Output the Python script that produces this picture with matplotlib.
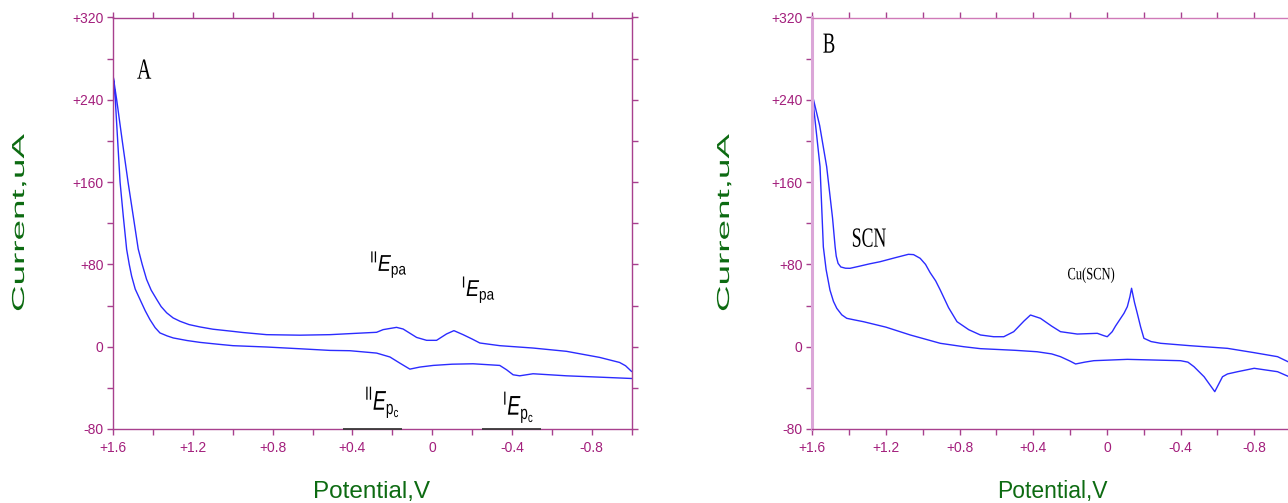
import numpy as np
import matplotlib
matplotlib.use("Agg")
import matplotlib.pyplot as plt
from matplotlib.patheffects import AbstractPathEffect
from matplotlib.ticker import MultipleLocator, FuncFormatter
from matplotlib.transforms import Affine2D

plt.rcParams['font.family'] = ['Liberation Sans', 'DejaVu Sans']
plt.rcParams['mathtext.fontset'] = 'custom'
plt.rcParams['mathtext.rm'] = 'Liberation Sans'
plt.rcParams['mathtext.it'] = 'Liberation Sans:italic'

# --- voltammogram A: anodic sweep (-1.0 -> +1.6 V), then cathodic sweep back
a_fwd_v = [-1.00, -0.97, -0.94, -0.84, -0.674, -0.506, -0.339, -0.239, -0.20, -0.155,
           -0.109, -0.072, -0.022, 0.028, 0.078, 0.146, 0.179, 0.246, 0.279, 0.413,
           0.513, 0.664, 0.831, 0.95, 1.00, 1.10, 1.165, 1.22, 1.265, 1.30,
           1.332, 1.36, 1.382, 1.41, 1.433, 1.455, 1.475, 1.50, 1.526, 1.555,
           1.583, 1.60]
a_fwd_i = [-24, -18.5, -15.3, -10.4, -4.5, -1.3, 1.0, 3.6, 7.5, 11.7,
           15.6, 12.4, 6.2, 6.2, 9.0, 17.2, 18.8, 16.6, 14.0, 12.7,
           11.7, 11.2, 11.7, 13.8, 14.9, 17.0, 19.2, 21.5, 24.7, 28.0,
           32.9, 39.0, 45.9, 55.0, 65.4, 80.0, 95.0, 127, 160, 200,
           240, 262]
a_rev_v = [1.60, 1.59, 1.566, 1.55, 1.533, 1.52, 1.508, 1.49, 1.466, 1.44,
           1.416, 1.39, 1.366, 1.33, 1.299, 1.23, 1.165, 1.08, 1.00, 0.831,
           0.664, 0.513, 0.413, 0.279, 0.212, 0.162, 0.112, 0.062, -0.005, -0.10,
           -0.205, -0.339, -0.373, -0.406, -0.439, -0.506, -0.674, -0.84, -1.00]
a_rev_i = [262, 240, 160, 127, 94.6, 80.0, 68.6, 56.0, 45.9, 35.0,
           26.3, 18.5, 13.4, 10.5, 8.5, 6.0, 4.2, 2.5, 1.0, -0.3,
           -2.0, -3.6, -3.9, -6.2, -10, -16, -21.8, -19.8, -18.2, -17,
           -16.6, -18.2, -22.4, -27.3, -28.3, -26.3, -28.3, -29.6, -30.9]

# --- voltammogram B (with thiocyanate)
b_fwd_v = [-1.00, -0.927, -0.80, -0.655, -0.45, -0.292, -0.24, -0.201, -0.183, -0.165,
           -0.15, -0.134, -0.125, -0.111, -0.093, -0.047, -0.029, -0.002, 0.016, 0.052,
           0.161, 0.252, 0.30, 0.361, 0.415, 0.45, 0.506, 0.56, 0.615, 0.687,
           0.75, 0.814, 0.86, 0.905, 0.93, 0.96, 0.985, 1.014, 1.05, 1.078,
           1.15, 1.232, 1.29, 1.35, 1.395, 1.42, 1.445, 1.46, 1.47, 1.476,
           1.49, 1.522, 1.56, 1.60]
b_fwd_i = [-16, -9.7, -5.8, -1.6, 1.0, 3.3, 5.0, 8.2, 19.4, 32.5,
           43, 56.8, 48.6, 38.9, 32.5, 20.1, 14.6, 9.7, 10.7, 13,
           12.3, 14.6, 20, 27.6, 30.8, 25, 14.6, 9.7, 9.7, 11.4,
           16.5, 24.3, 38, 55.1, 64, 72, 80, 85.9, 89.5, 89.8,
           86.5, 82.6, 80.5, 78, 76.2, 76.3, 77.5, 81, 88, 97,
           125, 175, 215, 245]
b_rev_v = [1.60, 1.558, 1.54, 1.525, 1.504, 1.485, 1.467, 1.44, 1.413, 1.37,
           1.322, 1.20, 1.068, 0.905, 0.778, 0.687, 0.50, 0.379, 0.30, 0.252,
           0.20, 0.17, 0.12, 0.071, -0.111, -0.40, -0.44, -0.473, -0.528, -0.586,
           -0.628, -0.655, -0.71, -0.80, -0.927, -1.00]
b_rev_i = [245, 175, 97, 75, 55, 44, 37.3, 31, 27.6, 26,
           24.3, 19, 11.4, 3.3, 0, -1.9, -3.5, -4.9, -7, -9.7,
           -14, -16.8, -15, -13.6, -12.3, -13.6, -15, -19.4, -29.2, -43.7,
           -29.2, -26.5, -24.3, -21, -24.3, -30]

x_limits = (1.6, -1.0)
y_limits = (-80, 320)
underline_spans = [(0.448, 0.152), (-0.249, -0.545)]

LINE = '#2b2bff'
SPINE = '#a8408e'
TICKLABEL = '#a31f7c'
GREEN = '#0d6b12'


class Stretch(AbstractPathEffect):
    """Scale glyph outlines along the text baseline."""

    def __init__(self, sx):
        super().__init__()
        self.sx = sx

    def draw_path(self, renderer, gc, tpath, affine, rgbFace=None):
        renderer.draw_path(gc, tpath, Affine2D().scale(self.sx, 1.0) + affine, rgbFace)


def fmt_v(v, pos):
    return '0' if abs(v) < 1e-9 else f'{v:+.1f}'


def fmt_i(v, pos):
    return '0' if abs(v) < 1e-9 else f'{v:+.0f}'


def setup_axes(ax):
    ax.set_xlim(*x_limits)
    ax.set_ylim(*y_limits)
    ax.xaxis.set_major_locator(MultipleLocator(0.4))
    ax.xaxis.set_minor_locator(MultipleLocator(0.2))
    ax.yaxis.set_major_locator(MultipleLocator(80))
    ax.yaxis.set_minor_locator(MultipleLocator(40))
    ax.xaxis.set_major_formatter(FuncFormatter(fmt_v))
    ax.yaxis.set_major_formatter(FuncFormatter(fmt_i))
    ax.tick_params(which='both', direction='out', length=4.5, width=1.0, color=SPINE,
                   top=True, right=True, labelsize=10, labelcolor=TICKLABEL)
    ax.tick_params(axis='x', pad=4)
    ax.tick_params(axis='y', pad=2.5)
    for sp in ax.spines.values():
        sp.set_color(SPINE)
        sp.set_linewidth(1.0)


W, H = 1288, 503
fig = plt.figure(figsize=(W / 100, H / 100), dpi=100)
axA = fig.add_axes([113.3 / W, 1 - 429 / H, 518.2 / W, 411.5 / H])
axB = fig.add_axes([812.3 / W, 1 - 429 / H, 478.7 / W, 411.5 / H])

for ax in (axA, axB):
    setup_axes(ax)

axB.spines['left'].set_color('#dba6d8')
axB.spines['left'].set_linewidth(2.2)
axB.spines['top'].set_color('#d07ab8')

axA.plot(np.concatenate([a_fwd_v, a_rev_v]), np.concatenate([a_fwd_i, a_rev_i]),
         color=LINE, lw=1.0)
axB.plot(np.concatenate([b_fwd_v, b_rev_v]), np.concatenate([b_fwd_i, b_rev_i]),
         color=LINE, lw=1.0)

for x0, x1 in underline_spans:
    axA.hlines(y_limits[0], x0, x1, color='#3a3a3a', lw=1.3, clip_on=False, zorder=5)

serif = ['Liberation Serif', 'DejaVu Serif']
axA.text(1.481, 260.5, 'A', family=serif, fontsize=21, ha='left', va='baseline',
         path_effects=[Stretch(0.68)])
axB.text(1.543, 285.8, 'B', family=serif, fontsize=21, ha='left', va='baseline',
         path_effects=[Stretch(0.64)])
axB.text(1.386, 97.2, 'SCN', family=serif, fontsize=20, ha='left', va='baseline',
         path_effects=[Stretch(0.64)])
axB.text(0.214, 65.5, 'Cu(SCN)', family=serif, fontsize=12.5, ha='left', va='baseline',
         path_effects=[Stretch(0.72)])

axA.text(0.313, 73.5, r'${}^{\mathrm{II}}E_{\mathrm{pa}}$', fontsize=16.5,
         ha='left', va='baseline', path_effects=[Stretch(0.85)])
axA.text(-0.147, 49.1, r'${}^{\mathrm{I}}E_{\mathrm{pa}}$', fontsize=16.5,
         ha='left', va='baseline', path_effects=[Stretch(0.85)])
axA.text(0.338, -61.5, r'${}^{\mathrm{II}}E_{\mathrm{p}_{\mathrm{c}}}$', fontsize=19.5,
         ha='left', va='baseline', path_effects=[Stretch(0.72)])
axA.text(-0.354, -66.3, r'${}^{\mathrm{I}}E_{\mathrm{p}_{\mathrm{c}}}$', fontsize=19.5,
         ha='left', va='baseline', path_effects=[Stretch(0.72)])

# axis titles
for x_px in (24, 729):
    fig.text(x_px / W, 1 - 312 / H, 'Current,uA', color=GREEN, fontsize=12.5,
             rotation=90, rotation_mode='anchor', ha='left', va='baseline',
             path_effects=[Stretch(2.12)])
fig.text(313 / W, 1 - 498 / H, 'Potential,V', color=GREEN, fontsize=17.5,
         ha='left', va='baseline')
fig.text(997 / W, 1 - 498 / H, 'Potential,V', color=GREEN, fontsize=16.5,
         ha='left', va='baseline')

fig.savefig('out.png', dpi=100, facecolor='white')
